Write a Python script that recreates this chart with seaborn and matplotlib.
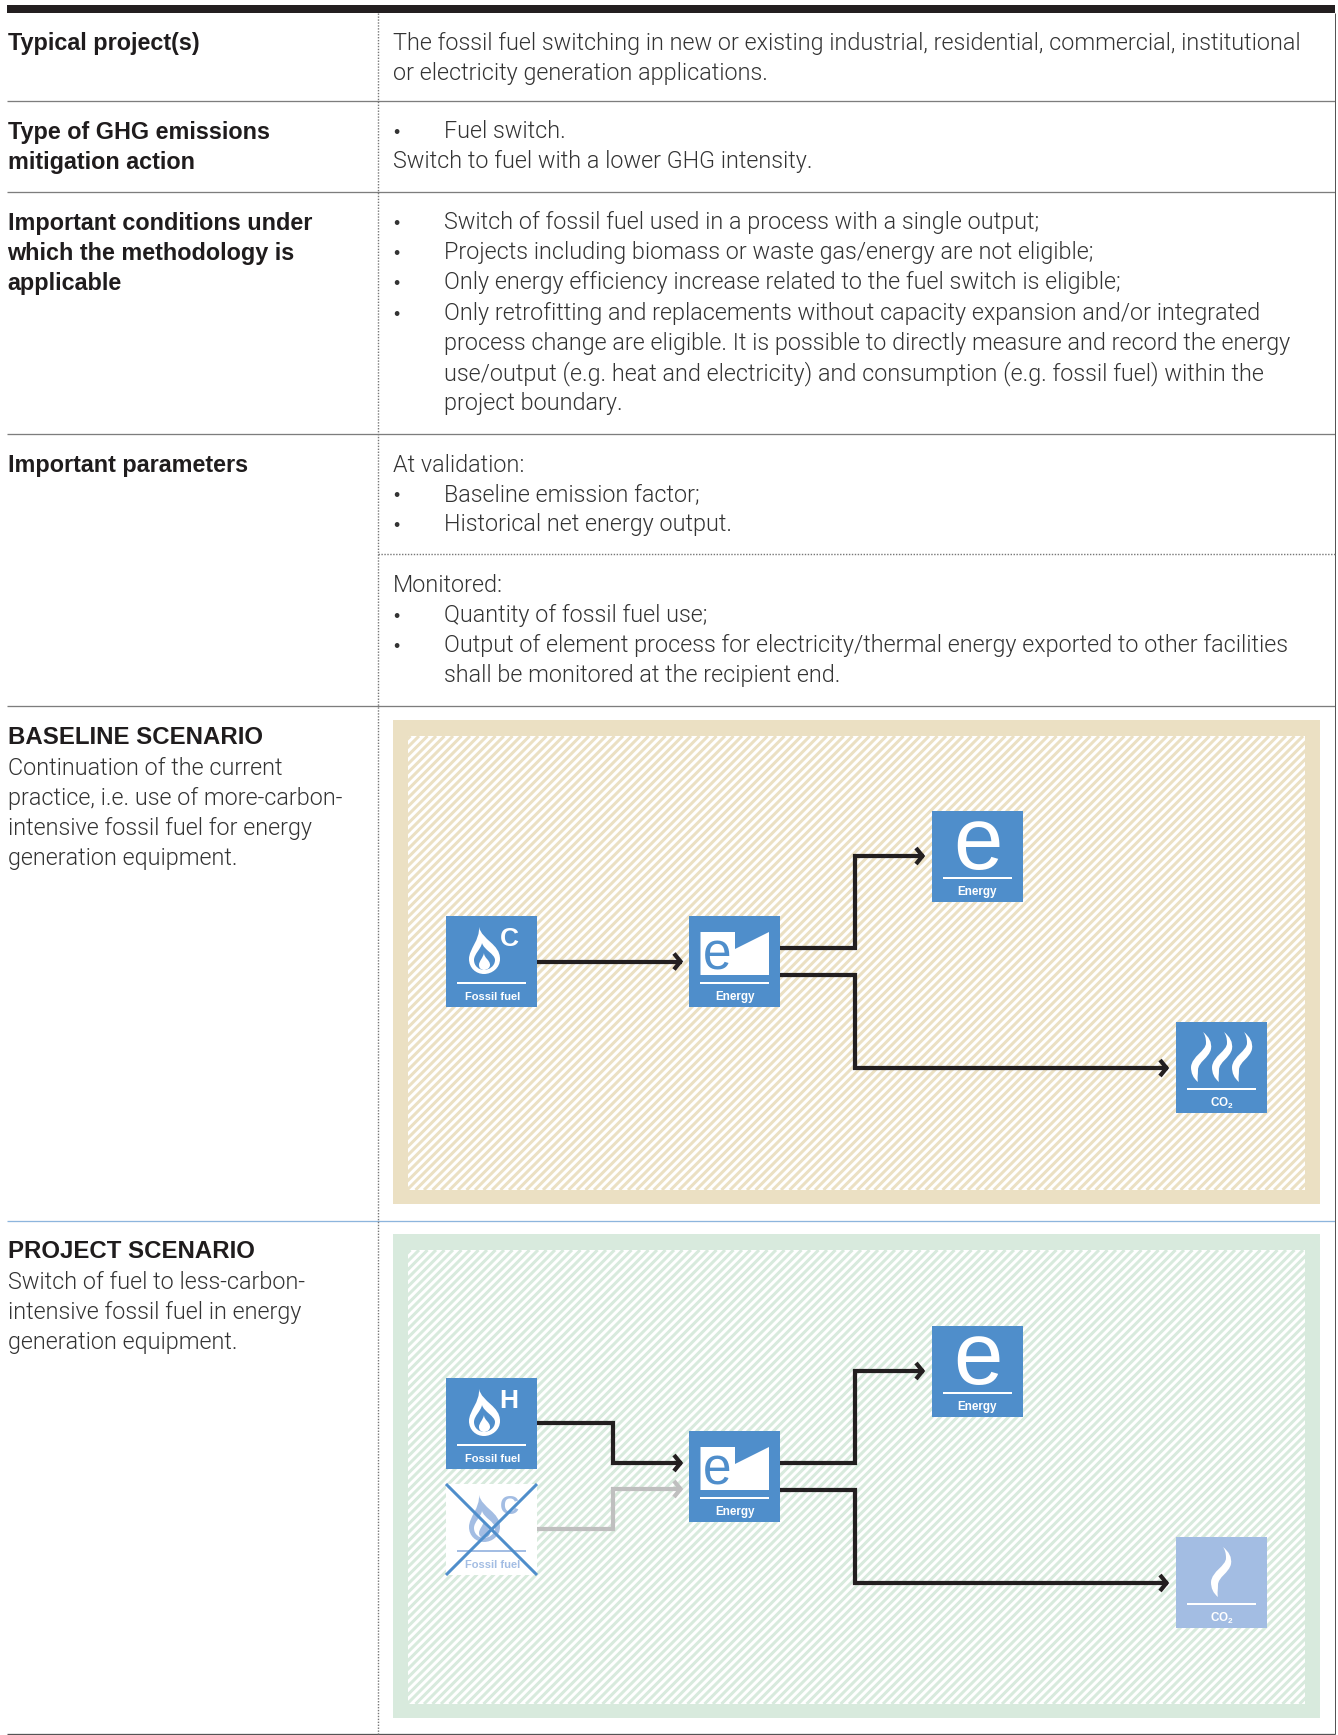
import numpy as np
import seaborn as sns
import matplotlib
matplotlib.use("Agg")
import matplotlib.pyplot as plt
from matplotlib.collections import LineCollection
from matplotlib.patches import PathPatch, Polygon, Rectangle
from matplotlib.path import Path

# table text
typical_label = ["Typical project(s)"]
typical_text = ["The fossil fuel switching in new or existing industrial, residential, commercial, institutional",
                "or electricity generation applications."]
type_label = ["Type of GHG emissions", "mitigation action"]
type_bullet = ["Fuel switch."]
type_text = ["Switch to fuel with a lower GHG intensity."]
conditions_label = ["Important conditions under", "which the methodology is", "applicable"]
conditions_bullets = [["Switch of fossil fuel used in a process with a single output;"],
                      ["Projects including biomass or waste gas/energy are not eligible;"],
                      ["Only energy efficiency increase related to the fuel switch is eligible;"],
                      ["Only retrofitting and replacements without capacity expansion and/or integrated",
                       "process change are eligible. It is possible to directly measure and record the energy",
                       "use/output (e.g. heat and electricity) and consumption (e.g. fossil fuel) within the",
                       "project boundary."]]
parameters_label = ["Important parameters"]
validation_head = "At validation:"
validation_bullets = [["Baseline emission factor;"], ["Historical net energy output."]]
monitored_head = "Monitored:"
monitored_bullets = [["Quantity of fossil fuel use;"],
                     ["Output of element process for electricity/thermal energy exported to other facilities",
                      "shall be monitored at the recipient end."]]
baseline_title = "BASELINE SCENARIO"
baseline_text = ["Continuation of the current", "practice, i.e. use of more-carbon-",
                 "intensive fossil fuel for energy", "generation equipment."]
project_title = "PROJECT SCENARIO"
project_text = ["Switch of fuel to less-carbon-", "intensive fossil fuel in energy", "generation equipment."]
box_fuel = "Fossil fuel"
box_energy = "Energy"
box_co2 = r"CO$_{\mathbf{2}}$"

BLUE = "#4f8ecb"
PALE = "#a3bde3"
INK = "#231f20"
BODY = "#333333"
BEIGE = "#ebe0c3"
GREEN = "#d8eadd"

sns.set_theme(style="white")
plt.rcParams["font.family"] = ["Liberation Sans", "DejaVu Sans"]
plt.rcParams["lines.solid_joinstyle"] = "miter"
plt.rcParams["lines.solid_capstyle"] = "butt"
plt.rcParams["mathtext.fontset"] = "custom"
plt.rcParams["mathtext.bf"] = "Liberation Sans:bold"

fig = plt.figure(figsize=(13.38, 17.35), dpi=100)
ax = fig.add_axes([0, 0, 1, 1])


def px(w):
    return w * 0.72


def line(xs, ys, color=INK, w=4.2, ls="-", zorder=3):
    sns.lineplot(x=np.array(xs, float), y=np.array(ys, float), sort=False, estimator=None,
                 color=color, linewidth=px(w), linestyle=ls, legend=False, ax=ax, zorder=zorder)


def arrow(xs, ys, color=INK):
    line(xs, ys, color)
    # open chevron head
    tx, ty = xs[-1], ys[-1]
    line([tx - 8, tx - 1.5, tx - 8], [ty - 8, ty, ty + 8], color, w=4.2)


def bold_lines(lines, y, x=7.5, step=30.0, size=None):
    for i, s in enumerate(lines):
        ax.text(x, y + i * step, s, fontsize=size or BOLD_SIZE, fontweight="bold", color="#1f1c1d",
                va="baseline", ha="left")


def body_lines(lines, y, x=393, step=30.2):
    for i, s in enumerate(lines):
        ax.text(x, y + i * step, s, fontsize=BODY_SIZE, family=BODY_FONT, fontweight=300, color=BODY,
                va="baseline", ha="left")


def bullets(items, y, step=30.2):
    n = 0
    for item in items:
        ax.text(393, y + n * step, "•", fontsize=BODY_SIZE - 4, color=BODY, va="baseline", ha="left")
        body_lines(item, y + n * step, x=444, step=step)
        n += len(item)


def panel(top, colour):
    ax.add_patch(Rectangle((393, top), 927, 484, fc=colour, ec="none", zorder=1))
    ax.add_patch(Rectangle((408, top + 16), 897, 454, fc="white", ec="none", zorder=1))
    # diagonal stripes of the panel fill
    clip = Rectangle((408, top + 16), 897, 454, transform=ax.transData)
    starts = np.arange(408 - 460, 1305 + 5, 8.5)
    segs = [[(s, top + 470), (s + 454, top + 16)] for s in starts]
    stripes = LineCollection(segs, colors=colour, linewidths=px(3.0), zorder=1)
    ax.add_collection(stripes)
    stripes.set_clip_path(clip)


def shape(verts, codes, color, zorder=5):
    ax.add_patch(PathPatch(Path(verts, codes), fc=color, ec="none", zorder=zorder))


def flame(x, y, fg, bg):
    M, C, Z = Path.MOVETO, Path.CURVE4, Path.CLOSEPOLY
    outer = [(33, 11), (36, 24), (54, 28), (54, 43), (54, 52), (46, 58), (38, 58),
             (30, 58), (23, 52), (23, 43), (23, 33), (34, 24), (33, 11), (33, 11)]
    inner = [(36, 27), (38, 34), (49, 38), (49, 44), (49, 50), (43, 54), (38, 54),
             (33, 54), (28, 50), (28, 44), (28, 38), (35, 33), (36, 27), (36, 27)]
    core = [(38, 37), (38, 42), (44, 44), (44, 49), (44, 52), (41, 54), (38, 54),
            (35, 54), (33, 52), (33, 49), (33, 45), (37, 42), (38, 37), (38, 37)]
    codes = [M] + [C] * 12 + [Z]
    for pts, col, z in [(outer, fg, 5), (inner, bg, 6), (core, fg, 7)]:
        shape([(x + a, y + b) for a, b in pts], codes, col, z)


def curl(x, y, dx, fg):
    M, C, Z = Path.MOVETO, Path.CURVE4, Path.CLOSEPOLY
    pts = [(27, 10), (33, 15), (36, 20), (35, 27), (33, 36), (22, 40), (22, 48),
           (22, 53), (21, 56), (22, 60), (17, 56), (15, 51), (15, 45), (16, 34),
           (30, 29), (30, 21), (30, 16), (29, 13), (27, 10), (27, 10)]
    codes = [M] + [C] * 18 + [Z]
    shape([(x + a + dx, y + b) for a, b in pts], codes, fg)


def box(x, y, label, fill=BLUE, fg="white", shift=0, size=8.4):
    ax.add_patch(Rectangle((x, y), 91, 91, fc=fill, ec="none", zorder=4))
    line([x + 11, x + 80], [y + 67, y + 67], fg, w=2.0, zorder=5)
    ax.text(x + 45.5 + shift, y + 81, label, fontsize=size, fontweight="bold", color=fg,
            ha="center", va="center", zorder=5)


def fuel_box(x, y, letter, fill=BLUE, fg="white"):
    box(x, y, box_fuel, fill, fg, shift=1.5, size=8.0)
    flame(x, y, fg, fill)
    ax.text(x + 63, y + 30, letter, fontsize=19, fontweight="bold", color=fg,
            ha="center", va="baseline", zorder=5)


def plant_box(x, y):
    box(x, y, box_energy)
    ax.add_patch(Polygon([(x + 11.5, y + 16), (x + 46, y + 16), (x + 46, y + 33), (x + 80, y + 16),
                          (x + 80, y + 59), (x + 11.5, y + 59)], fc="white", ec="none", zorder=5))
    ax.text(x + 28, y + 53, "e", fontsize=37, color=BLUE, ha="center", va="baseline", zorder=6)


def energy_box(x, y):
    box(x, y, box_energy)
    ax.text(x + 45.5, y + 57.5, "e", fontsize=64, color="white", ha="center", va="baseline", zorder=5)


def co2_box(x, y, offsets, fill=BLUE):
    box(x, y, box_co2, fill)
    for dx in offsets:
        curl(x, y, dx, "white")


BODY_FONT = ["Roboto", "Liberation Sans"]
BODY_SIZE = 16.8
BOLD_SIZE = 16.85
TITLE_SIZE = 17.3

# rules of the table
ax.add_patch(Rectangle((7, 5), 1328, 8, fc="#231f20", ec="none", zorder=2))
for y in [100.7, 191.7, 434, 706]:
    line([7, 1335], [y, y], "#7d7d7d", w=1.3, zorder=2)
line([7, 1335], [1221, 1221], "#8db5dd", w=1.3, zorder=2)
line([7, 1335], [1734, 1734], "#555555", w=1.3, zorder=2)
line([1334.5, 1334.5], [13, 1734], "#555555", w=1.0, zorder=2)
line([378, 378], [13, 1734], "#777777", w=1.4, ls=(0, (1, 1.1)), zorder=2)
line([378, 1335], [554.5, 554.5], "#777777", w=1.4, ls=(0, (1, 1.1)), zorder=2)

# left column
bold_lines(typical_label, 50)
bold_lines(type_label, 138.5)
bold_lines(conditions_label, 230)
bold_lines(parameters_label, 472)
for title, lines_, y in [(baseline_title, baseline_text, 743.5), (project_title, project_text, 1258)]:
    bold_lines([title], y, size=TITLE_SIZE)
    body_lines(lines_, y + 31, x=7.5)

# right column
body_lines(typical_text, 50)
bullets([type_bullet], 138)
body_lines(type_text, 168)
bullets(conditions_bullets, 229)
body_lines([validation_head], 472)
bullets(validation_bullets, 501)
body_lines([monitored_head], 592)
bullets(monitored_bullets, 622)

# scenario panels
panel(720, BEIGE)
panel(1234, GREEN)

# baseline diagram
fuel_box(446, 916, "C")
plant_box(689, 916)
energy_box(932, 811)
co2_box(1176, 1022, [0, 21, 41])
arrow([537, 682], [961.5, 961.5])
arrow([780, 855, 855, 924], [948, 948, 856, 856])
arrow([780, 855, 855, 1168], [975, 975, 1068, 1068])

# project diagram
fuel_box(446, 1378, "H")
ax.add_patch(Rectangle((446, 1484), 91, 91, fc="white", ec="none", zorder=3.5))
fuel_box(446, 1484, "C", "white", PALE)
line([446, 537], [1484, 1575], BLUE, w=3.0, zorder=8)
line([446, 537], [1575, 1484], BLUE, w=3.0, zorder=8)
plant_box(689, 1431)
energy_box(932, 1326)
co2_box(1176, 1537, [20], PALE)
arrow([537, 613, 613, 682], [1423, 1423, 1463, 1463])
arrow([537, 613, 613, 682], [1529, 1529, 1489, 1489], "#bfbfbf")
arrow([780, 855, 855, 924], [1463, 1463, 1371, 1371])
arrow([780, 855, 855, 1168], [1490, 1490, 1583, 1583])

ax.set_xlim(0, 1338)
ax.set_ylim(1735, 0)
ax.axis("off")
fig.savefig("out.png", dpi=100, facecolor="white")
